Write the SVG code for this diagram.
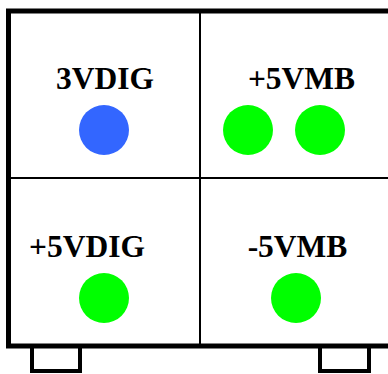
<svg xmlns="http://www.w3.org/2000/svg" width="388" height="374" viewBox="0 0 388 374">
<style>
.frame{fill:#fff;stroke:#000;stroke-width:5}
.div{stroke:#000;stroke-width:2}
.foot{fill:#fff;stroke:#000;stroke-width:4}
.lbl{font-family:"Liberation Serif","Times New Roman",serif;font-weight:bold;font-size:31.5px;fill:#000;text-anchor:middle}
.blue{fill:#3366ff}
.green{fill:#00ff00}
</style>
<rect width="388" height="374" fill="#fff"/>
<g id="feet">
<rect class="foot" x="32" y="345" width="48" height="26"/>
<rect class="foot" x="320" y="345" width="49" height="26"/>
</g>
<g id="frame">
<rect class="frame" x="8.5" y="11" width="390" height="335"/>
</g>
<g id="connectors">
<line class="div" x1="200" y1="11" x2="200" y2="346"/>
<line class="div" x1="8.5" y1="178" x2="392" y2="178"/>
</g>
<g id="node-3vdig">
<text class="lbl" x="105" y="89">3VDIG</text>
<circle class="blue" cx="104" cy="130" r="25"/>
</g>
<g id="node-5vmb">
<text class="lbl" x="301.5" y="89">+5VMB</text>
<circle class="green" cx="248" cy="130" r="25"/>
<circle class="green" cx="320" cy="130" r="25"/>
</g>
<g id="node-5vdig">
<text class="lbl" x="87" y="257">+5VDIG</text>
<circle class="green" cx="104" cy="298" r="25"/>
</g>
<g id="node-m5vmb">
<text class="lbl" x="297.5" y="257">-5VMB</text>
<circle class="green" cx="296" cy="298" r="25"/>
</g>
</svg>
